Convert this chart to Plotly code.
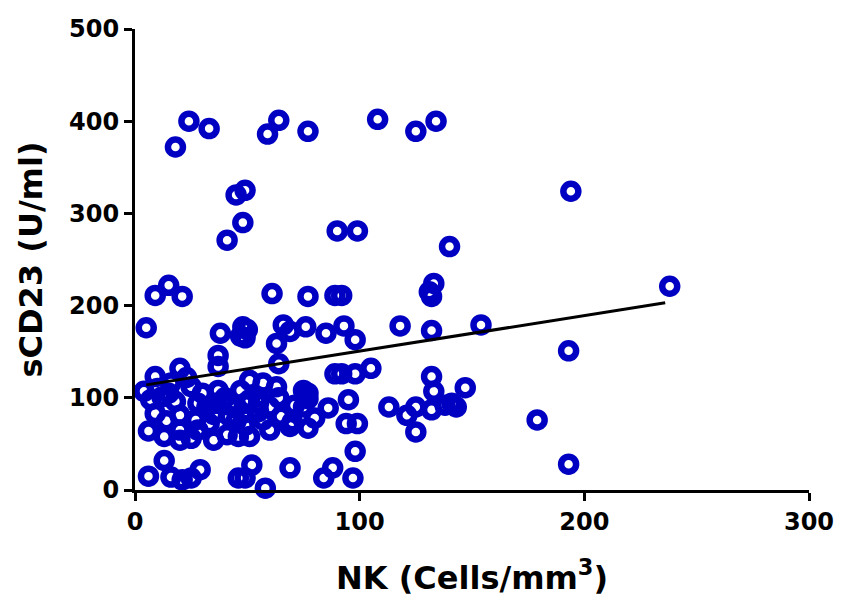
import plotly.graph_objects as go

# NK cell count (cells/mm3) and soluble CD23 (U/ml) per subject
nk_cells = [
    24, 33, 18, 59, 64, 77, 108, 125, 134,
    45, 49, 48, 41, 90, 99, 194, 140,
    238, 193, 179, 193, 154, 132, 118, 133, 131, 132,
    147, 132, 133, 113, 125, 121, 125, 132, 138, 143, 141,
    105, 98, 89, 92, 92, 89, 98, 95, 99, 94, 98,
    9, 15, 21, 5, 38, 48, 47, 37, 37, 9, 20, 23, 47,
    61, 77, 50, 66, 69, 76, 63, 85, 93, 49, 64, 75, 51,
    6, 13, 16, 21, 25, 29, 46, 52, 69, 84, 88, 97, 58, 49,
    6, 13, 20, 25, 33, 41, 46, 9, 12, 18, 28, 20, 27, 36, 42, 42, 49, 4,
    51, 69, 77, 86, 65, 71, 80, 77, 64, 55, 48,
    25, 37, 49, 55, 57, 63, 70, 77, 75, 57, 51, 35, 20, 7, 32, 16,
    10, 15, 30, 40, 55, 60, 35, 45, 60, 28, 14,
]
scd23 = [
    400, 392, 372, 386, 401, 389, 402, 389, 400,
    320, 325, 290, 271, 281, 281, 324, 264,
    221, 151, 76, 28, 179, 173, 178, 224, 215, 210,
    111, 123, 107, 90, 90, 81, 63, 87, 92, 90, 94,
    132, 163, 126, 211, 126, 211, 126, 98, 72, 72, 42,
    211, 222, 210, 176, 170, 177, 167, 146, 134, 123, 132, 122, 108,
    213, 210, 174, 179, 172, 177, 159, 170, 178, 165, 137, 108, 119,
    15, 32, 14, 11, 13, 22, 13, 27, 24, 13, 24, 13, 2, 13,
    64, 58, 65, 56, 72, 60, 58, 83, 101, 96, 94, 81, 76, 94, 92, 80, 94, 107,
    98, 69, 67, 89, 80, 92, 78, 99, 100, 101, 83,
    112, 108, 70, 94, 116, 112, 74, 105, 90, 76, 58, 54, 54, 98, 90, 116,
    110, 105, 105, 100, 85, 90, 82, 75, 65, 65, 75,
]

# Endpoints of the linear regression line
fit_x = [5, 236]
fit_y = [114, 203]

x_ticks = [0, 100, 200, 300]
y_ticks = [0, 100, 200, 300, 400, 500]

font_family = "DejaVu Sans"
point_color = "#0000c2"

fig = go.Figure()
fig.add_trace(go.Scatter(
    x=nk_cells, y=scd23, mode="markers",
    marker=dict(symbol="circle-open", size=15, color=point_color,
                line=dict(width=6.5, color=point_color)),
    cliponaxis=False, showlegend=False,
))
fig.add_trace(go.Scatter(
    x=fit_x, y=fit_y, mode="lines",
    line=dict(color="black", width=3),
    cliponaxis=False, showlegend=False,
))

axis_common = dict(
    showline=True, linecolor="black", linewidth=3,
    ticks="outside", ticklen=8, tickwidth=3, tickcolor="black",
    showgrid=False, zeroline=False,
    tickfont=dict(family=font_family, size=24, color="black", weight="bold"),
)

fig.update_layout(
    width=846, height=611, autosize=False,
    margin=dict(l=135, r=30, t=29, b=121),
    plot_bgcolor="white", paper_bgcolor="white",
    xaxis=dict(
        range=[0, 300], tickvals=x_ticks,
        title=dict(text="NK (Cells/mm<sup>3</sup>)", standoff=32,
                   font=dict(family=font_family, size=32, color="black", weight="bold")),
        **axis_common,
    ),
    yaxis=dict(
        range=[0, 500], tickvals=y_ticks,
        title=dict(text="sCD23 (U/ml)", standoff=17,
                   font=dict(family=font_family, size=32, color="black", weight="bold")),
        **axis_common,
    ),
)

fig.write_html("out.html")
